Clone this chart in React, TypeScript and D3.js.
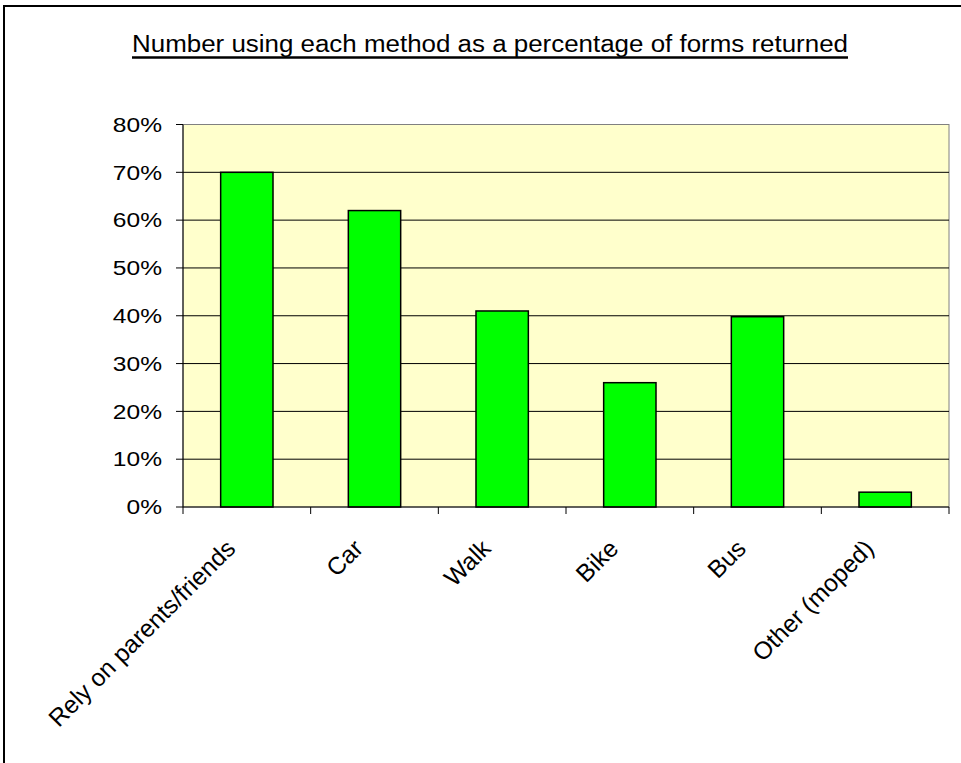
import React from "react";
import * as d3 from "d3";

const categories = ["Rely on parents/friends", "Car", "Walk", "Bike", "Bus", "Other (moped)"];
const values = [70, 62, 41, 26, 39.8, 3.1];
const yTicks = [0, 10, 20, 30, 40, 50, 60, 70, 80];
const title = "Number using each method as a percentage of forms returned";

const W = 961;
const H = 763;
const plot = { left: 183, right: 949, top: 124.5, bottom: 507 };
const FONT = "Arial, 'Liberation Sans', sans-serif";

export default function App() {
  const x = d3
    .scaleBand<string>()
    .domain(categories)
    .range([plot.left, plot.right])
    .paddingInner(0.59)
    .paddingOuter(0.295);
  const band = d3.scaleBand<string>().domain(categories).range([plot.left, plot.right]);
  const y = d3.scaleLinear().domain([0, 80]).range([plot.bottom, plot.top]);

  return (
    <svg
      width={W}
      height={H}
      style={{ position: "absolute", left: 0, top: 0, background: "#fff" }}
      fontFamily={FONT}
    >
      <rect x={4} y={6} width={W + 10} height={H + 10} fill="#fff" stroke="#000" strokeWidth={2} />
      <text x={132} y={51.7} fontSize={23} textLength={716} lengthAdjust="spacingAndGlyphs">
        {title}
      </text>
      <line x1={132} x2={848} y1={57.5} y2={57.5} stroke="#000" strokeWidth={2.5} />
      <rect
        x={plot.left}
        y={plot.top}
        width={plot.right - plot.left}
        height={plot.bottom - plot.top}
        fill="#FFFFCC"
        stroke="#808080"
        strokeWidth={1}
      />
      {yTicks.slice(1, -1).map((t) => (
        <line key={t} x1={plot.left} x2={plot.right} y1={y(t)} y2={y(t)} stroke="#000" strokeWidth={1} />
      ))}
      {categories.map((c, i) => (
        <rect
          key={c}
          x={x(c)}
          y={y(values[i])}
          width={x.bandwidth()}
          height={plot.bottom - y(values[i])}
          fill="#00FF00"
          stroke="#000"
          strokeWidth={1.5}
        />
      ))}
      <line x1={plot.left} x2={plot.left} y1={plot.top} y2={plot.bottom} stroke="#000" strokeWidth={1} />
      <line x1={plot.left} x2={plot.right} y1={plot.bottom} y2={plot.bottom} stroke="#000" strokeWidth={1} />
      {yTicks.map((t) => (
        <g key={t}>
          <line x1={plot.left - 7} x2={plot.left} y1={y(t)} y2={y(t)} stroke="#000" strokeWidth={1} />
          <text
            textAnchor="end"
            fontSize={21}
            transform={`translate(162, ${y(t) + 7.3}) scale(1.17, 1)`}
          >
            {d3.format("d")(t) + "%"}
          </text>
        </g>
      ))}
      {categories.map((c) => (
        <line
          key={"tk" + c}
          x1={band(c)}
          x2={band(c)}
          y1={plot.bottom}
          y2={plot.bottom + 7}
          stroke="#000"
          strokeWidth={1}
        />
      ))}
      <line x1={plot.right} x2={plot.right} y1={plot.bottom} y2={plot.bottom + 7} stroke="#000" strokeWidth={1} />
      {categories.map((c) => {
        const cx = (band(c) as number) + band.bandwidth() / 2 - 10;
        const ty = 550;
        return (
          <text
            key={"lb" + c}
            textAnchor="end"
            fontSize={24.5}
            transform={`translate(${cx}, ${ty}) rotate(-45)`}
          >
            {c}
          </text>
        );
      })}
    </svg>
  );
}
